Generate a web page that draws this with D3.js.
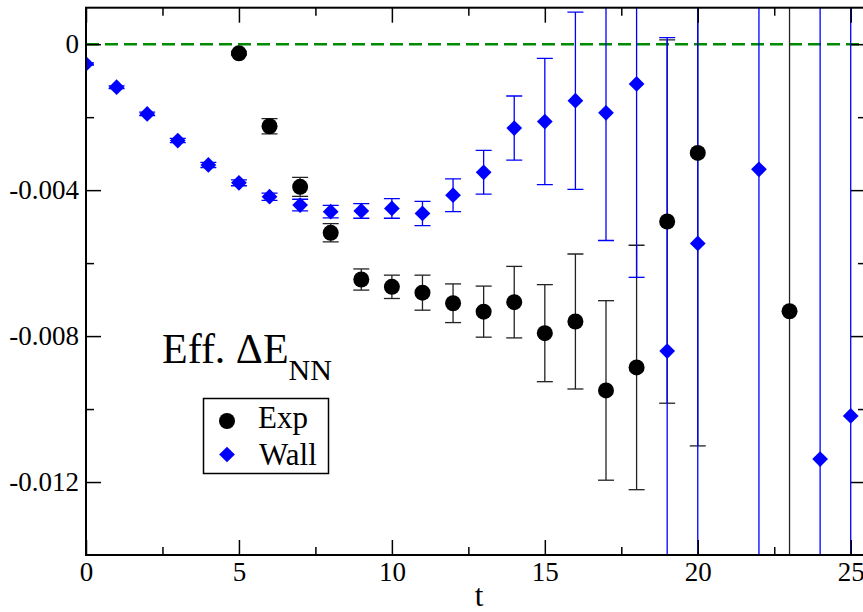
<!DOCTYPE html>
<html>
<head>
<meta charset="utf-8">
<script src="https://cdn.jsdelivr.net/npm/d3@7/dist/d3.min.js"></script>
<style>
  html, body { margin: 0; padding: 0; background: #fff; }
  svg { display: block; }
</style>
</head>
<body>
<svg id="chart" width="863" height="612"></svg>
<script>
// Exp source: effective energy shift per time slice, with jackknife errors
const expT   = [5, 6, 7, 8, 9, 10, 11, 12, 13, 14, 15, 16, 17, 18, 19, 20, 23];
const expY   = [-0.00025, -0.00225, -0.00391, -0.00517, -0.00645, -0.00665, -0.00681, -0.0071,
                -0.00733, -0.00707, -0.00792, -0.0076, -0.00949, -0.00886, -0.00486, -0.00298, -0.00732];
const expErr = [0.00005, 0.00021, 0.00026, 0.00025, 0.00029, 0.00032, 0.00048, 0.00053,
                0.0007, 0.00098, 0.00133, 0.00185, 0.00246, 0.00335, 0.00498, 0.00803, 0.012];

// Wall source
const wallT   = [0, 1, 2, 3, 4, 5, 6, 7, 8, 9, 10, 11, 12, 13, 14, 15, 16, 17, 18, 19, 20, 22, 24, 25];
const wallY   = [-0.00054, -0.00118, -0.00191, -0.00264, -0.00331, -0.0038, -0.00418, -0.00441,
                 -0.00459, -0.00457, -0.0045, -0.00464, -0.00414, -0.00351, -0.0023, -0.00212,
                 -0.00155, -0.00188, -0.00109, -0.00841, -0.00546, -0.00343, -0.01137, -0.01019];
const wallErr = [0.00003, 0.00004, 0.00005, 0.00006, 0.00007, 0.00008, 0.0001, 0.00016,
                 0.00017, 0.0002, 0.00027, 0.00033, 0.00045, 0.0006, 0.00088, 0.00173,
                 0.00243, 0.0035, 0.0053, 0.00859, 0.012, 0.013, 0.015, 0.014];

// Axis ticks
const xTicks      = [0, 5, 10, 15, 20, 25];
const xTickLabels = ["0", "5", "10", "15", "20", "25"];
const xMinor      = [2.5, 7.5, 12.5, 17.5, 22.5];
const yTicks      = [0, -0.004, -0.008, -0.012];
const yTickLabels = ["0", "-0.004", "-0.008", "-0.012"];
const yMinor      = [-0.002, -0.006, -0.01];

const legendNames = ["Exp", "Wall"];

const SERIF = "'Liberation Serif', 'Times New Roman', 'DejaVu Serif', serif";
const L = 86, R = 866, T = 7.7, B = 555;
const svg = d3.select("#chart").attr("font-family", SERIF);

const x = d3.scaleLinear().domain([0, 25.5]).range([L, R]);
const y = d3.scaleLinear().domain([-0.014, 0.001]).range([B, T]);

svg.append("defs").append("clipPath").attr("id", "plotclip")
  .append("rect").attr("x", L).attr("y", T).attr("width", R - L).attr("height", B - T);

const plot = svg.append("g").attr("clip-path", "url(#plotclip)");

// zero reference line
plot.append("line")
  .attr("x1", L).attr("x2", R).attr("y1", y(0)).attr("y2", y(0))
  .attr("stroke", "#008b00").attr("stroke-width", 2.5).attr("stroke-dasharray", "13,6");

function errorBars(g, ts, ys, es, color) {
  const capW = 8;
  const grp = g.append("g").attr("stroke", color).attr("stroke-width", 1.3).attr("fill", "none");
  ts.forEach((t, i) => {
    const cx = x(t), y1 = y(ys[i] + es[i]), y2 = y(ys[i] - es[i]);
    grp.append("line").attr("x1", cx).attr("x2", cx).attr("y1", y1).attr("y2", y2);
    grp.append("line").attr("x1", cx - capW).attr("x2", cx + capW).attr("y1", y1).attr("y2", y1);
    grp.append("line").attr("x1", cx - capW).attr("x2", cx + capW).attr("y1", y2).attr("y2", y2);
  });
}

errorBars(plot, expT, expY, expErr, "#222");
errorBars(plot, wallT, wallY, wallErr, "#0000ff");

const diamond = d3.symbol().type(d3.symbolSquare).size(124)();

plot.append("g").selectAll("path").data(wallT).join("path")
  .attr("d", diamond)
  .attr("transform", (t, i) => `translate(${x(t)},${y(wallY[i])}) rotate(45)`)
  .attr("fill", "#0000ff");

plot.append("g").selectAll("circle").data(expT).join("circle")
  .attr("cx", t => x(t)).attr("cy", (t, i) => y(expY[i])).attr("r", 8)
  .attr("fill", "#000");

// Axes: ticks point inwards on all four sides
function addAxis(axis, tx, ty) {
  const g = svg.append("g").attr("transform", `translate(${tx},${ty})`).call(axis);
  g.attr("font-family", SERIF).attr("font-size", 27);
  g.select(".domain").remove();
  g.selectAll(".tick line").attr("stroke", "#000").attr("stroke-width", 1.5);
  g.selectAll("text").attr("fill", "#000").style("font-family", SERIF).style("font-size", "27px");
  return g;
}

addAxis(d3.axisBottom(x).tickValues(xTicks).tickSize(-15).tickPadding(7)
  .tickFormat((d, i) => xTickLabels[i]), 0, B);
addAxis(d3.axisBottom(x).tickValues(xMinor).tickSize(-8).tickFormat(""), 0, B);
addAxis(d3.axisTop(x).tickValues(xTicks).tickSize(-15).tickFormat(""), 0, T);
addAxis(d3.axisTop(x).tickValues(xMinor).tickSize(-8).tickFormat(""), 0, T);
addAxis(d3.axisLeft(y).tickValues(yTicks).tickSize(-15).tickPadding(7)
  .tickFormat((d, i) => yTickLabels[i]), L, 0);
addAxis(d3.axisLeft(y).tickValues(yMinor).tickSize(-8).tickFormat(""), L, 0);
addAxis(d3.axisRight(y).tickValues(yTicks).tickSize(-15).tickFormat(""), R, 0);
addAxis(d3.axisRight(y).tickValues(yMinor).tickSize(-8).tickFormat(""), R, 0);

// frame
svg.append("rect").attr("x", L).attr("y", T).attr("width", R - L).attr("height", B - T)
  .attr("fill", "none").attr("stroke", "#000").attr("stroke-width", 2);

function label(g, px, py, size, str) {
  return g.append("text").attr("x", px).attr("y", py)
    .style("font-family", SERIF).style("font-size", size + "px").attr("fill", "#000").text(str);
}

// axis title
label(svg, (L + R) / 2 + 3, 606, 31, "t").attr("text-anchor", "middle");

// panel title
const title = label(svg, 162, 363, 42, "");
title.append("tspan").text("Eff. \u0394E");
title.append("tspan").attr("dy", 17).style("font-size", "30px").text("NN");

// legend
const lg = svg.append("g");
lg.append("rect").attr("x", 203.5).attr("y", 398.5).attr("width", 125).attr("height", 75)
  .attr("fill", "#fff").attr("stroke", "#000").attr("stroke-width", 1.5);
lg.append("circle").attr("cx", 227).attr("cy", 421).attr("r", 8).attr("fill", "#000");
lg.append("path").attr("d", diamond).attr("transform", "translate(227,454.5) rotate(45)").attr("fill", "#0000ff");
label(lg, 258, 428, 31, legendNames[0]);
label(lg, 259, 465, 31, legendNames[1]);
</script>
</body>
</html>
